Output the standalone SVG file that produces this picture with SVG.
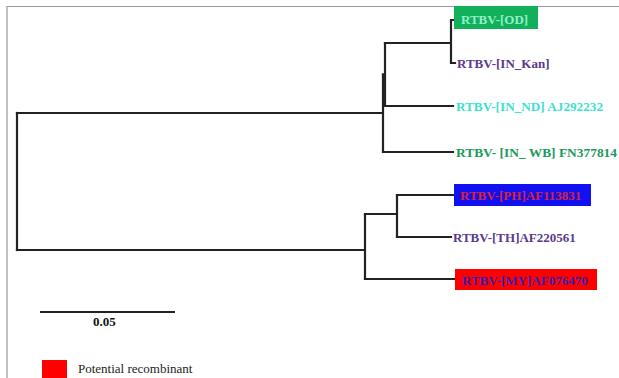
<svg xmlns="http://www.w3.org/2000/svg" width="619" height="378" viewBox="0 0 619 378">
<style>
.br{fill:none;stroke:#222;stroke-width:2.2;stroke-linecap:square}
.lb{font-family:"Liberation Serif","Times New Roman",serif;font-size:13px;font-weight:bold}
.frame{fill:none;stroke:#999;stroke-width:1.2}
</style>
<rect width="619" height="378" fill="#fff"/>
<path class="frame" d="M7,378 V6.5 H619"/>
<g id="connectors">
<path class="br" d="M17,113 V250"/>
<path class="br" d="M17,113 H383 M383,74.5 V152"/>
<path class="br" d="M383,74.5 H385 M385,43 V106"/>
<path class="br" d="M385,43 H451 M451,20 V63 M451,20 H453 M451,63 H455"/>
<path class="br" d="M385,106 H453"/>
<path class="br" d="M383,152 H453"/>
<path class="br" d="M17,250 H365 M365,214 V279"/>
<path class="br" d="M365,214 H397 M397,195 V237"/>
<path class="br" d="M397,195 H453"/>
<path class="br" d="M397,237 H451"/>
<path class="br" d="M365,279 H455"/>
</g>
<g id="OD">
<rect x="454" y="6" width="84" height="23" fill="#12b05a"/>
<text class="lb" x="461" y="23.5" fill="#8ff0c8">RTBV-[OD]</text>
</g>
<g id="IN_Kan">
<text class="lb" x="457" y="68" fill="#5a3a8c">RTBV-[IN_Kan]</text>
</g>
<g id="IN_ND">
<text class="lb" x="456" y="111" fill="#3ee0d0" textLength="147" lengthAdjust="spacingAndGlyphs">RTBV-[IN_ND] AJ292232</text>
</g>
<g id="IN_WB">
<text class="lb" x="456" y="157" fill="#1a9a5a" textLength="161" lengthAdjust="spacingAndGlyphs">RTBV- [IN_ WB] FN377814</text>
</g>
<g id="PH">
<rect x="454" y="184" width="137" height="22" fill="#1010f0"/>
<text class="lb" x="460" y="200" fill="#d8203c">RTBV-[PH]AF113831</text>
</g>
<g id="TH">
<text class="lb" x="453" y="242" fill="#5a3a8c">RTBV-[TH]AF220561</text>
</g>
<g id="MY">
<rect x="455" y="269" width="142" height="21" fill="#ff0000"/>
<text class="lb" x="462" y="284.5" fill="#3420b0">RTBV-[MY]AF076470</text>
</g>
<g id="scale">
<path d="M40,312 H175" stroke="#222" stroke-width="2" fill="none"/>
<text class="lb" x="93" y="326" fill="#111" font-size="12">0.05</text>
</g>
<g id="legend">
<rect x="42" y="360" width="25" height="20" fill="#ff0000"/>
<text x="78" y="373" font-family="Liberation Serif, serif" font-size="13" fill="#222">Potential recombinant</text>
</g>
</svg>
